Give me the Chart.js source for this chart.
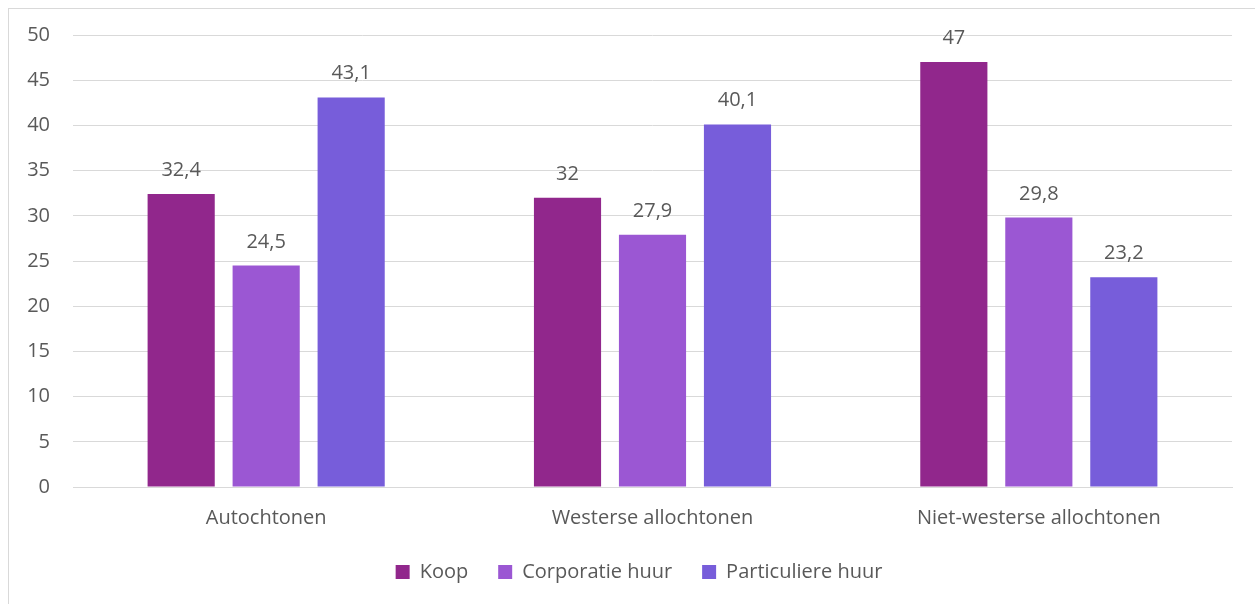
<!DOCTYPE html>
<html lang="nl">
<head>
<meta charset="utf-8">
<title>Woningbezit naar herkomst</title>
<script src="https://cdn.jsdelivr.net/npm/chart.js@4"></script>
<style>
  html, body { margin: 0; padding: 0; background: #ffffff; }
  #wrap { position: relative; width: 1255px; height: 604px; overflow: hidden; }
  #frame { position: absolute; left: 8px; top: 8px; width: 1300px; height: 700px;
           border-left: 1px solid #d9d9d9; border-top: 1px solid #d9d9d9; box-sizing: border-box; }
  canvas { position: absolute; left: 0; top: 0; }
</style>
</head>
<body>
<div id="wrap">
  <div id="frame"></div>
  <canvas id="chart" width="1255" height="604"></canvas>
</div>
<script>
// Herkomstgroepen
const categories = ['Autochtonen', 'Westerse allochtonen', 'Niet-westerse allochtonen'];

// Percentages per woningtype
const koop = [32.4, 32, 47];
const corporatieHuur = [24.5, 27.9, 29.8];
const particuliereHuur = [43.1, 40.1, 23.2];

const seriesNames = ['Koop', 'Corporatie huur', 'Particuliere huur'];
const seriesColors = ['#91278c', '#9b57d3', '#775dda'];

const yTicks = [0, 5, 10, 15, 20, 25, 30, 35, 40, 45, 50];

const textColor = '#595959';
const fontFamily = '"Open Sans", "Noto Sans", sans-serif';

// Waardelabels boven de staven, met komma als decimaalteken
const valueLabels = {
  id: 'valueLabels',
  afterDatasetsDraw(chart) {
    const ctx = chart.ctx;
    ctx.save();
    ctx.fillStyle = textColor;
    ctx.font = '20px ' + fontFamily;
    ctx.textAlign = 'center';
    ctx.textBaseline = 'alphabetic';
    chart.data.datasets.forEach((ds, i) => {
      const meta = chart.getDatasetMeta(i);
      meta.data.forEach((bar, j) => {
        const txt = String(ds.data[j]).replace('.', ',');
        ctx.fillText(txt, bar.x, bar.y - 18);
      });
    });
    ctx.restore();
  }
};

// Legenda iets naar rechts: gecentreerd over het gebied rechts van de y-as-labels
const legendShift = {
  id: 'legendShift',
  afterLayout(chart) {
    if (chart.legend) chart.legend.left = 46;
  }
};

Chart.defaults.font.family = fontFamily;
Chart.defaults.font.size = 20;
Chart.defaults.color = textColor;

new Chart(document.getElementById('chart'), {
  type: 'bar',
  data: {
    labels: categories,
    datasets: [koop, corporatieHuur, particuliereHuur].map((d, i) => ({
      label: seriesNames[i],
      data: d,
      backgroundColor: seriesColors[i],
      borderWidth: 0,
      categoryPercentage: 0.66,
      barPercentage: 0.79
    }))
  },
  options: {
    responsive: false,
    animation: false,
    layout: { padding: { left: 0, right: 23, top: 34, bottom: 12 } },
    scales: {
      x: {
        grid: { display: false, drawTicks: false },
        border: { display: true, color: '#d9d9d9', width: 1 },
        ticks: { padding: 19, color: textColor, font: { size: 20 } },
        afterFit(scale) { scale.height = 45; }
      },
      y: {
        min: 0,
        max: 50,
        afterBuildTicks(scale) { scale.ticks = yTicks.map(v => ({ value: v })); },
        grid: { color: '#d9d9d9', lineWidth: 1, drawTicks: false },
        border: { display: false },
        ticks: { padding: 23, color: textColor, font: { size: 20 } },
        afterFit(scale) { scale.width = 73; }
      }
    },
    plugins: {
      legend: {
        position: 'bottom',
        labels: { boxWidth: 14, boxHeight: 14, padding: 30, color: textColor, font: { size: 20 } }
      },
      tooltip: { enabled: false }
    }
  },
  plugins: [valueLabels, legendShift]
});
</script>
</body>
</html>
